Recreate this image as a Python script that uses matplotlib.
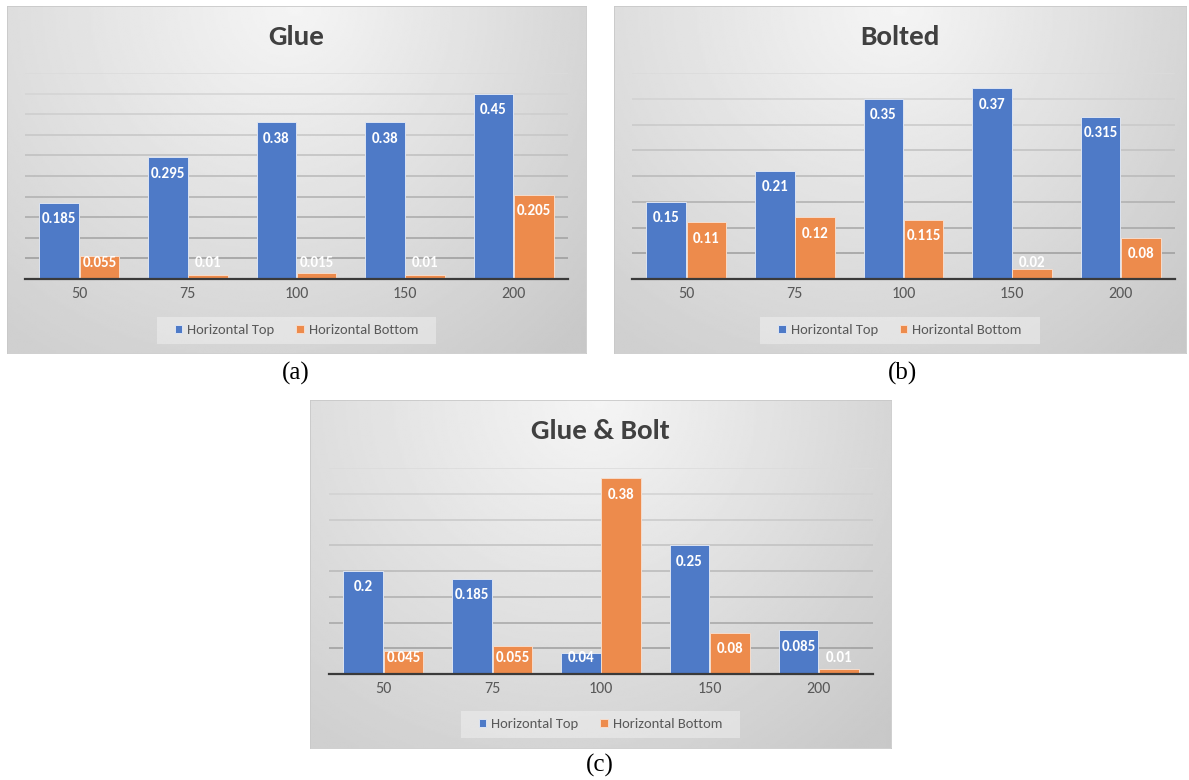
import numpy as np
import matplotlib
matplotlib.use('Agg')
import matplotlib.pyplot as plt
from matplotlib import font_manager
from matplotlib.patches import Rectangle

# data
categories = ['50', '75', '100', '150', '200']
series_names = ['Horizontal Top', 'Horizontal Bottom']
titles = ['Glue', 'Bolted', 'Glue & Bolt']
captions = ['(a)', '(b)', '(c)']

glue_top = [0.185, 0.295, 0.38, 0.38, 0.45]
glue_bottom = [0.055, 0.01, 0.015, 0.01, 0.205]
bolted_top = [0.15, 0.21, 0.35, 0.37, 0.315]
bolted_bottom = [0.11, 0.12, 0.115, 0.02, 0.08]
gluebolt_top = [0.2, 0.185, 0.04, 0.25, 0.085]
gluebolt_bottom = [0.045, 0.055, 0.38, 0.08, 0.01]
y_max = [0.5, 0.4, 0.4]

# fonts - Calibri look-alike if there is one
names = {f.name for f in font_manager.fontManager.ttflist}
FONT = 'Carlito' if 'Carlito' in names else 'Lato'
plt.rcParams['font.family'] = [FONT, 'DejaVu Sans']

BLUE = '#4e7ac7'
ORANGE = '#ed8b4c'
GREY_TXT = '#595959'

W, H = 1189, 780
fig = plt.figure(figsize=(W / 100, H / 100), dpi=100)
fig.patch.set_facecolor('white')


def rect(x0, y0, x1, y1):
    # pixel box (top-left origin) -> figure fraction
    return [x0 / W, 1 - y1 / H, (x1 - x0) / W, (y1 - y0) / H]


def fpos(x, y):
    return x / W, 1 - y / H


# layout of each panel in pixels
boxes = [(7, 6, 586, 353), (614, 6, 1186, 353), (310, 400, 891, 748)]
plots = [(25, 73, 568, 279), (632, 73, 1175, 279), (329, 468, 873, 674)]
cap_pos = [(296, 373), (903, 373), (600, 765)]

tops = [glue_top, bolted_top, gluebolt_top]
bottoms = [glue_bottom, bolted_bottom, gluebolt_bottom]

# radial grey gradient like the Excel chart style
gx, gy = np.meshgrid(np.linspace(0, 1, 300), np.linspace(0, 1, 200))
r = np.sqrt(((gx - 0.5) * 1.67) ** 2 + (gy - 1.0) ** 2)
grad = 0.975 - 0.16 * np.clip(r / 1.25, 0, 1) - 0.03 * gx

legends = []
for i in range(3):
    bx0, by0, bx1, by1 = boxes[i]
    px0, py0, px1, py1 = plots[i]

    bg = fig.add_axes(rect(*boxes[i]), zorder=0)
    bg.imshow(grad, cmap='gray', vmin=0, vmax=1, extent=[0, 1, 0, 1],
              origin='lower', aspect='auto', interpolation='bilinear')
    bg.set_xticks([])
    bg.set_yticks([])
    for s in bg.spines.values():
        s.set_color('#c8c8c8')
        s.set_linewidth(0.6)

    ax = fig.add_axes(rect(*plots[i]), zorder=1)
    ax.patch.set_alpha(0)
    x = np.arange(len(categories))
    w = 0.365
    ymax = y_max[i]

    # gridlines, lighter towards the top
    ticks = np.arange(0.05, ymax + 1e-9, 0.05)
    for t in ticks:
        f = t / ymax
        c = 0.58 + (0.86 - 0.58) * f
        ax.axhline(t, color=(c, c, c), lw=1.1, zorder=0)

    b1 = ax.bar(x - w / 2 - 0.003, tops[i], w, color=BLUE,
                edgecolor='#dde4f2', linewidth=0.7, zorder=2)
    b2 = ax.bar(x + w / 2 + 0.003, bottoms[i], w, color=ORANGE,
                edgecolor='#f6dccb', linewidth=0.7, zorder=2)

    ax.set_xlim(-0.5, len(categories) - 0.5)
    ax.set_ylim(0, ymax)
    ax.set_yticks([])
    ax.set_xticks(x, categories)
    ax.tick_params(axis='x', length=0, pad=6, labelsize=11.5, labelcolor=GREY_TXT)
    for s in ['top', 'left', 'right']:
        ax.spines[s].set_visible(False)
    ax.spines['bottom'].set_color('#3a3a3a')
    ax.spines['bottom'].set_linewidth(1.6)
    ax.spines['bottom'].set_zorder(3)

    # value labels inside the bar end (kept above baseline for tiny bars)
    h_px = py1 - py0
    off = 16.3 / h_px * ymax
    low = 16.0 / h_px * ymax
    for bars, vals in [(b1, tops[i]), (b2, bottoms[i])]:
        for bar, v in zip(bars, vals):
            yl = max(v - off, low)
            ax.text(bar.get_x() + bar.get_width() / 2, yl, f'{v:g}',
                    ha='center', va='center', color='white',
                    fontweight='bold', fontsize=10.8, zorder=4)

    cx = (bx0 + bx1) / 2
    fig.text(*fpos(cx, by0 + 31), titles[i], ha='center', va='center',
             fontsize=21, fontweight='bold', color='#404040')

    lg = ax.legend([b1, b2], series_names, loc='center',
                   bbox_to_anchor=fpos(cx, by0 + 324), bbox_transform=fig.transFigure,
                   ncol=2, frameon=False, fontsize=10.5, handlelength=0.5,
                   handleheight=0.5, handletextpad=0.35, columnspacing=1.5,
                   borderpad=0.2)
    for t in lg.get_texts():
        t.set_color(GREY_TXT)
    legends.append((lg, by0 + 324))

    fig.text(*fpos(*cap_pos[i]), captions[i], ha='center', va='center',
             fontsize=18, family='Liberation Serif', color='black')

# light box behind each legend, sized from the drawn legend
fig.canvas.draw()
for lg, cy in legends:
    bb = lg.get_window_extent()
    x0 = bb.x0 - 15
    wid = bb.width + 30
    hgt = 27
    y0 = (H - cy) - hgt / 2
    fig.patches.append(Rectangle((x0 / W, y0 / H), wid / W, hgt / H,
                                 transform=fig.transFigure, facecolor='white',
                                 alpha=0.35, edgecolor='none', zorder=0.5))

fig.savefig('out.png', dpi=100)
